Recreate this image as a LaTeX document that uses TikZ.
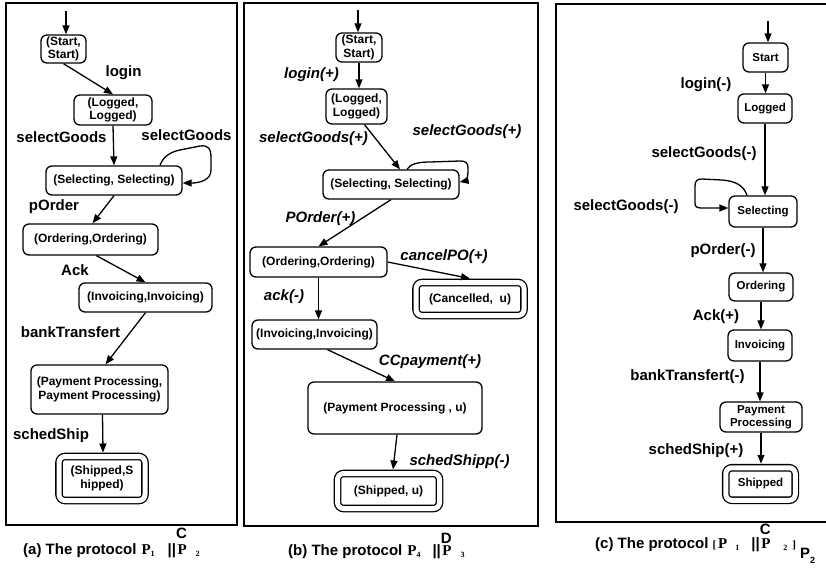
\documentclass[tikz,border=0pt]{standalone}
\usepackage{fontspec}
\setmainfont{Liberation Sans}
\newfontfamily\pfont{Liberation Serif}
\usetikzlibrary{positioning, arrows.meta}

\newcommand{\nodefont}{\fontsize{12}{13.5}\selectfont\bfseries}
\newcommand{\smnodefont}{\fontsize{11.5}{13}\selectfont\bfseries}
\newcommand{\labfont}{\fontsize{15}{18}\selectfont\bfseries}
\newcommand{\capsub}[1]{\raisebox{-2pt}{\pfont\fontsize{8}{8}\selectfont #1}}
\newcommand{\capover}[3]{\rlap{\raisebox{#1}{#2}}\hspace{1.5pt}{\pfont #3}}

\begin{document}
\begin{tikzpicture}[x=1pt, y=-1pt,
  frame/.style={line width=1.6pt},
  state/.style={draw, rectangle, rounded corners=6pt, line width=1.3pt, align=center, inner sep=1pt, font=\nodefont},
  final/.style={state, double, double distance=5pt, outer sep=4pt},
  trans/.style={-{Triangle[length=9pt,width=7pt]}, line width=1.3pt},
  lab/.style={anchor=base, inner sep=0pt, font=\labfont},
  ilab/.style={lab, font=\labfont\itshape},
  capt/.style={anchor=base west, inner sep=0pt, font=\labfont}]

  \useasboundingbox (0,0) rectangle (826,568);

  % (a) composition P1 || P2

  \draw[frame] (6,3) rectangle (237,525);
  \node[state, minimum width=45pt, minimum height=28pt] (aStart) at (63.5,49) {(Start,\\Start)};
  \node[state, minimum width=78pt, minimum height=30pt] (aLogged) at (113,110) {(Logged,\\Logged)};
  \node[state, minimum width=136pt, minimum height=29pt] (aSel) at (114,180.5) {(Selecting, Selecting)};
  \node[state, minimum width=135pt, minimum height=31pt] (aOrd) at (90.5,239.5) {(Ordering,Ordering)};
  \node[state, minimum width=133pt, minimum height=29pt] (aInv) at (145.5,297.5) {(Invoicing,Invoicing)};
  \node[state, minimum width=137pt, minimum height=49pt] (aPay) at (99.5,389.5) {(Payment Processing,\\Payment Processing)};
  \node[final, minimum width=86pt, minimum height=44pt] (aShip) at (102,478.5) {(Shipped,S\\hipped)};

  \coordinate[above=23pt of aStart.north, xshift=2.5pt] (aIn);
  \draw[trans] (aIn) -- (aIn |- aStart.north);
  \draw[trans] (aStart.south) -- (aLogged.north);
  \draw[trans] (aLogged.south) -- (aSel.north);
  \draw[trans] ([xshift=46pt]aSel.north) .. controls (163,157) and (170,152) .. (180,150) -- (200,146)
    .. controls (208,145) and (211,148) .. (211,158) -- (211,170) .. controls (211,180) and (200,183) .. ([yshift=-2.5pt]aSel.east);
  \draw[trans] (aSel.south) -- ([xshift=2pt]aOrd.north);
  \draw[trans] ([xshift=6pt]aOrd.south) -- (aInv.north);
  \draw[trans] (aInv.south) -- ([xshift=6pt]aPay.north);
  \draw[trans] ([xshift=3pt]aPay.south) -- ([xshift=1pt]aShip.north);

  \node[lab] (aLogin) at (123.5,76) {login};
  \node[lab] (aSelect) at (61.5,142) {selectGoods};
  \node[lab] (aLoop) at (186.5,140) {selectGoods};
  \node[lab] (aOrder) at (54,210) {pOrder};
  \node[lab] (aAck) at (75,275) {Ack};
  \node[lab] (aBank) at (70.5,337) {bankTransfert};
  \node[lab] (aSched) at (51,439) {schedShip};

  \node[capt] (capA) at (23,554) {(a) The protocol\hspace{5pt}{\pfont P}\capsub{1}\hspace{13pt}||\capover{16pt}{C}{P}\hspace{9pt}\capsub{2}};

  % (b) composition P4 || P3

  \draw[frame] (244,3) rectangle (538,526);
  \node[state, minimum width=46pt, minimum height=29pt] (bStart) at (359,47.5) {(Start,\\Start)};
  \node[state, minimum width=61pt, minimum height=35pt] (bLogged) at (356.5,106.5) {(Logged,\\Logged)};
  \node[state, minimum width=136pt, minimum height=29pt] (bSel) at (391,184.5) {(Selecting, Selecting)};
  \node[state, minimum width=137pt, minimum height=30pt] (bOrd) at (318.5,262) {(Ordering,Ordering)};
  \node[final, minimum width=108pt, minimum height=33pt] (bCan) at (470,299) {(Cancelled,~ u)};
  \node[state, minimum width=125pt, minimum height=29pt] (bInv) at (314.5,334.5) {(Invoicing,Invoicing)};
  \node[state, minimum width=174pt, minimum height=52pt] (bPay) at (395,408) {(Payment Processing~, u)};
  \node[final, minimum width=102pt, minimum height=35pt] (bShip) at (388.5,491) {(Shipped, u)};

  \coordinate[above=22pt of bStart.north, xshift=-1pt] (bIn);
  \draw[trans] (bIn) -- (bIn |- bStart.north);
  \draw[trans] (bStart.south) -- (bStart.south |- bLogged.north);
  \draw[trans] ([xshift=8pt]bLogged.south) -- ([xshift=9pt]bSel.north);
  \draw[trans] ([xshift=16pt]bSel.north) .. controls (410,164) and (418,162) .. (430,162) -- (460,161)
    .. controls (466,161) and (468,163) .. (468,168) -- (468,172) .. controls (468,178) and (465,181) .. ([yshift=2.5pt]bSel.east);
  \draw[trans] (bSel.south) -- (bOrd.north);
  \draw[trans] (bOrd.east) -- (bCan.north);
  \draw[trans] (bOrd.south) -- (bOrd.south |- bInv.north);
  \draw[trans] ([xshift=13pt]bInv.south) -- (bPay.north);
  \draw[trans] ([xshift=2pt]bPay.south) -- ([xshift=4.5pt]bShip.north);

  \node[ilab] (bLogin) at (311.5,78) {login(+)};
  \node[ilab] (bSelect) at (313.5,142) {selectGoods(+)};
  \node[ilab] (bLoop) at (467,135) {selectGoods(+)};
  \node[ilab] (bOrder) at (320.5,222) {POrder(+)};
  \node[ilab] (bCancel) at (444,260) {cancelPO(+)};
  \node[ilab] (bAck) at (284,300) {ack(-)};
  \node[ilab] (bPayLab) at (430,365) {CCpayment(+)};
  \node[ilab] (bSched) at (459.5,465) {schedShipp(-)};

  \node[capt] (capB) at (288,555) {(b) The protocol\hspace{5pt}{\pfont P}\capsub{4}\hspace{12pt}||\capover{12pt}{D}{P}\hspace{9pt}\capsub{3}};

  % (c) projection [P1 || P2] on P2

  \draw[frame] (826,4) -- (556,4) -- (556,522) -- (826,522);
  \node[state, font=\smnodefont, minimum width=45pt, minimum height=29pt] (cStart) at (765.5,57.5) {Start};
  \node[state, font=\smnodefont, minimum width=54pt, minimum height=29pt] (cLogged) at (765,108.5) {Logged};
  \node[state, font=\smnodefont, minimum width=68pt, minimum height=31pt] (cSel) at (763,211.5) {Selecting};
  \node[state, font=\smnodefont, minimum width=64pt, minimum height=28pt] (cOrd) at (761,287) {Ordering};
  \node[state, font=\smnodefont, minimum width=64pt, minimum height=31pt] (cInv) at (760,345.5) {Invoicing};
  \node[state, font=\smnodefont, minimum width=82pt, minimum height=30pt] (cPay) at (761,417) {Payment\\Processing};
  \node[final, font=\smnodefont, minimum width=69.5pt, minimum height=32.5pt] (cShip) at (760.5,484) {Shipped};

  \coordinate[above=21pt of cStart.north, xshift=2.5pt] (cIn);
  \draw[trans] (cIn) -- (cIn |- cStart.north);
  \draw[trans] (cStart.south) -- (cStart.south |- cLogged.north);
  \draw[trans] (cLogged.south) -- (cLogged.south |- cSel.north);
  \draw[trans] ([xshift=-16pt]cSel.north) .. controls (744,186) and (736,181) .. (722,180) -- (702,179)
    .. controls (697,179) and (695,181) .. (695,186) -- (695,203) .. controls (695,207) and (697,208) .. (702,208) -- ([yshift=3.5pt]cSel.west);
  \draw[trans] (cSel.south) -- (cSel.south |- cOrd.north);
  \draw[trans] (cOrd.south) -- (cOrd.south |- cInv.north);
  \draw[trans] (cInv.south) -- (cInv.south |- cPay.north);
  \draw[trans] (cPay.south) -- (cPay.south |- cShip.north);

  \node[lab] (cLogin) at (706,88) {login(-)};
  \node[lab] (cSelect) at (704,157) {selectGoods(-)};
  \node[lab] (cLoop) at (626,210) {selectGoods(-)};
  \node[lab] (cOrder) at (723,254) {pOrder(-)};
  \node[lab] (cAck) at (716,320) {Ack(+)};
  \node[lab] (cBank) at (687.5,380) {bankTransfert(-)};
  \node[lab] (cSched) at (696,454) {schedShip(+)};

  \node[capt] (capC) at (595,548) {(c) The protocol\hspace{4pt}{\pfont\fontsize{11}{11}\selectfont[}\hspace{2pt}{\pfont P}\hspace{8pt}\capsub{1}\hspace{12pt}||\capover{14pt}{C}{P}\hspace{13pt}\capsub{2}\hspace{5pt}{\pfont\fontsize{11}{11}\selectfont]}\hspace{4pt}\raisebox{-10pt}{P}\raisebox{-15pt}{\fontsize{9}{9}\selectfont 2}};

\end{tikzpicture}
\end{document}
